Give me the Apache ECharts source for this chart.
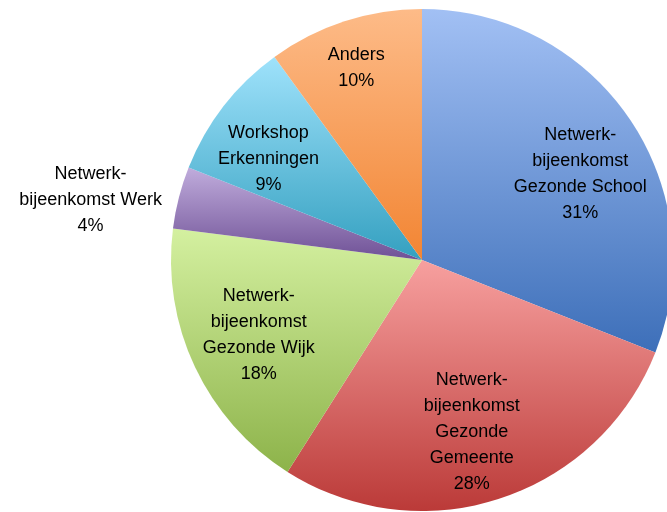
<!DOCTYPE html>
<html>
<head>
<meta charset="utf-8">
<script src="https://cdn.jsdelivr.net/npm/echarts@6/dist/echarts.min.js"></script>
<style>
	html, body { margin: 0; padding: 0; background: #fff; }
	#main { width: 667px; height: 512px; }
</style>
</head>
<body>
<div id="main"></div>
<script>
var categories = [
	'Netwerk-\nbijeenkomst\nGezonde School',
	'Netwerk-\nbijeenkomst\nGezonde\nGemeente',
	'Netwerk-\nbijeenkomst\nGezonde Wijk',
	'Netwerk-\nbijeenkomst Werk',
	'Workshop\nErkenningen',
	'Anders'
];
var values = [31, 28, 18, 4, 9, 10];
// kleur boven / onder per segment
var topColors = ['#a2c0f4', '#f7a09f', '#d4f0a0', '#c0acdc', '#9fe2fb', '#fdbb88'];
var bottomColors = ['#3d6fb9', '#bb3a38', '#8db34a', '#6f5196', '#34a0c0', '#f28533'];
// labelverschuiving t.o.v. de standaard 'inside' positie
var labelOffsets = [[52, -14], [10, 50], [-47, 20], [-207, -28], [-52, -22], [-26, -70]];

var myChart = echarts.init(document.getElementById('main'));
var data = [];
values.forEach(function (v, i) {
	data.push({
		name: categories[i],
		value: v,
		itemStyle: {
			color: new echarts.graphic.LinearGradient(0, 0, 0, 1, [{
				offset: 0,
				color: topColors[i]
			}, {
				offset: 1,
				color: bottomColors[i]
			}])
		},
		label: {
			offset: labelOffsets[i]
		}
	});
});

var option = {
	backgroundColor: '#fff',
	animation: false,
	series: [{
		type: 'pie',
		center: [422, 260],
		radius: [0, 251],
		startAngle: 90,
		clockwise: true,
		avoidLabelOverlap: false,
		itemStyle: {
			borderWidth: 0
		},
		label: {
			show: true,
			position: 'inside',
			rotate: 0,
			color: '#000',
			fontFamily: 'Liberation Sans',
			fontSize: 18,
			lineHeight: 26,
			align: 'center',
			formatter: function (p) {
				return p.name + '\n' + p.value + '%';
			}
		},
		labelLine: { show: false },
		data: data
	}]
};
myChart.setOption(option);
</script>
</body>
</html>
